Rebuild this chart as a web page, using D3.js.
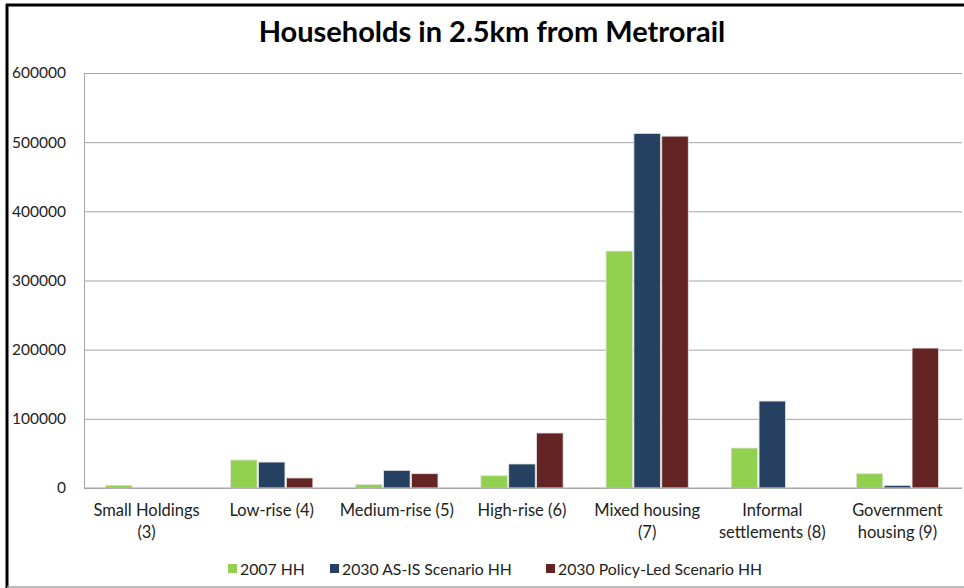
<!DOCTYPE html>
<html>
<head>
<meta charset="utf-8">
<script src="https://cdn.jsdelivr.net/npm/d3@7"></script>
<style>
  html, body { margin: 0; padding: 0; background: #fff; }
  svg { display: block; font-family: Lato, "Open Sans", sans-serif; }
</style>
</head>
<body>
<svg id="chart" width="964" height="588"></svg>
<script>
const title = "Households in 2.5km from Metrorail";
const categories = [
  ["Small Holdings", "(3)"],
  ["Low-rise (4)"],
  ["Medium-rise (5)"],
  ["High-rise (6)"],
  ["Mixed housing", "(7)"],
  ["Informal", "settlements (8)"],
  ["Government", "housing (9)"]
];
const seriesNames = ["2007 HH", "2030 AS-IS Scenario HH", "2030 Policy-Led Scenario HH"];
const seriesColors = ["#92D050", "#254061", "#632423"];
const hh2007 = [4000, 40500, 5000, 17800, 342500, 57800, 20700];
const hh2030AsIs = [0, 37500, 25500, 34700, 512600, 125700, 3800];
const hh2030Policy = [0, 14500, 20700, 79500, 508700, 0, 202300];
const yTicks = [0, 100000, 200000, 300000, 400000, 500000, 600000];

const seriesValues = [hh2007, hh2030AsIs, hh2030Policy];
const svg = d3.select("#chart");

// frame
svg.append("rect").attr("x", 0).attr("y", 0).attr("width", 964).attr("height", 588).attr("fill", "#fff");
svg.append("line").attr("x1", 6).attr("x2", 964).attr("y1", 5).attr("y2", 5).attr("stroke", "#000").attr("stroke-width", 3);
svg.append("line").attr("x1", 7).attr("x2", 7).attr("y1", 4).attr("y2", 588).attr("stroke", "#000").attr("stroke-width", 3);
svg.append("line").attr("x1", 7).attr("x2", 964).attr("y1", 587).attr("y2", 587).attr("stroke", "#a6a6a6").attr("stroke-width", 1.5);

const plotLeft = 84, plotRight = 962, plotTop = 73, plotBottom = 488;
const y = d3.scaleLinear().domain([0, 600000]).range([plotBottom, plotTop]);
const x0 = d3.scaleBand().domain(d3.range(categories.length)).range([plotLeft, plotLeft + 876]).padding(0);
const x1 = d3.scaleBand().domain(d3.range(seriesNames.length)).range([0, x0.bandwidth()])
  .paddingInner(0.05).paddingOuter(0.77);

// title
svg.append("text").attr("x", 492).attr("y", 42).attr("text-anchor", "middle")
  .attr("font-size", 29).attr("font-weight", "bold").attr("fill", "#000").text(title);

// gridlines
const yAxis = d3.axisLeft(y).tickValues(yTicks).tickSize(-(plotRight - plotLeft)).tickFormat(d3.format("d"));
const gy = svg.append("g").attr("transform", `translate(${plotLeft},0)`).call(yAxis);
gy.select(".domain").attr("stroke", "#a6a6a6");
gy.selectAll(".tick line").attr("stroke", "#a6a6a6").attr("stroke-width", 1);
gy.selectAll(".tick text").attr("x", -18).attr("font-size", 15.5).attr("fill", "#222")
  .attr("font-family", "Lato, sans-serif");

// bars
const groups = svg.append("g").selectAll("g").data(categories).join("g")
  .attr("transform", (d, i) => `translate(${x0(i)},0)`);
groups.selectAll("rect").data((d, i) => seriesValues.map((vals, s) => ({ s, v: vals[i] })))
  .join("rect")
  .attr("x", d => x1(d.s))
  .attr("width", x1.bandwidth())
  .attr("y", d => y(d.v))
  .attr("height", d => plotBottom - y(d.v))
  .attr("fill", d => seriesColors[d.s])
  .attr("stroke", "#e2e2e2")
  .attr("stroke-width", d => d.v > 0 ? 0.8 : 0);

// baseline on top
svg.append("line").attr("x1", plotLeft).attr("x2", plotRight).attr("y1", plotBottom).attr("y2", plotBottom)
  .attr("stroke", "#a6a6a6").attr("stroke-width", 1.2);

// category labels
const cat = svg.append("g").selectAll("text").data(categories).join("text")
  .attr("text-anchor", "middle").attr("font-size", 16.5).attr("fill", "#222")
  .attr("transform", (d, i) => `translate(${x0(i) + x0.bandwidth() / 2},516)`);
cat.selectAll("tspan").data(d => d).join("tspan")
  .attr("x", 0).attr("dy", (d, j) => j === 0 ? 0 : 22).text(d => d);

// legend
const legendX = [228, 330, 546];
const lg = svg.append("g").selectAll("g").data(seriesNames).join("g")
  .attr("transform", (d, i) => `translate(${legendX[i]},569)`);
lg.append("rect").attr("x", 0).attr("y", -5).attr("width", 9).attr("height", 9)
  .attr("fill", (d, i) => seriesColors[i]);
lg.append("text").attr("x", 12).attr("y", 5.5).attr("font-size", 15.8).attr("fill", "#222").text(d => d);
</script>
</body>
</html>
